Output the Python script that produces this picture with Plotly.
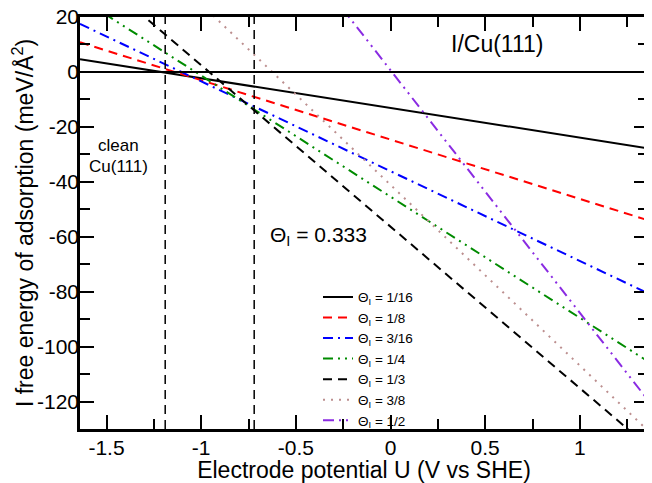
import plotly.graph_objects as go

# Electrode potential at the two ends of each (straight) line
U_ends = [-1.64, 1.36]

labels = ["1/16", "1/8", "3/16", "1/4", "1/3", "3/8", "1/2"]
G_1_16 = [4.6, -27.8]
G_1_8 = [10.8, -54.0]
G_3_16 = [17.5, -80.6]
G_1_4 = [26.9, -105.4]
G_1_3 = [40.1, -136.3]
G_3_8 = [66.8, -130.6]
G_1_2 = [145.5, -119.5]
series = [G_1_16, G_1_8, G_3_16, G_1_4, G_1_3, G_3_8, G_1_2]

colors = ["#000000", "#ff0000", "#0000ff", "#008b00", "#000000", "#bc8f8f", "#8a2be2"]
dashes = ["solid", "9px,6px", "10px,5px,2px,5px", "10px,5px,2px,5px,2px,5px",
          "9px,6px", "2px,6px", "11px,5px,2px,5px,2px,5px"]

# vertical marker potentials
U_marks = [-1.19, -0.72]

x_ticks = [-1.5, -1, -0.5, 0, 0.5, 1]
x_ticktext = ["-1.5", "-1", "-0.5", "0", "0.5", "1"]
y_ticks = [-120, -100, -80, -60, -40, -20, 0, 20]
y_ticktext = ["-120", "-100", "-80", "-60", "-40", "-20", "0", "20"]

FONT = "Liberation Sans, Arial, Helvetica, sans-serif"

# page body adds an 8px offset; compensate so the plot lands where intended
OFF = 8
W, H = 652 - OFF, 483 - OFF
L, T = 80 - OFF, 17 - OFF
PW, PH = 568, 412.5
R = W - L - PW
B = H - T - PH

fig = go.Figure()
for lab, g, c, d in zip(labels, series, colors, dashes):
    fig.add_trace(go.Scatter(
        x=U_ends, y=g, mode="lines",
        line=dict(color=c, width=2, dash=d),
        name="Θ<sub>I</sub> = " + lab,
    ))

for u in U_marks:
    fig.add_shape(type="line", xref="x", yref="paper", x0=u, x1=u, y0=0, y1=1,
                  line=dict(color="black", width=1.5, dash="9px,6px"), layer="above")

def sx(xpx):
    return (xpx - OFF - L) / PW

def sy(ypx):
    return (H - B - (ypx - OFF)) / PH

def px_ann(text, xpx, ypx, size):
    fig.add_annotation(
        x=sx(xpx), y=sy(ypx), xref="paper", yref="paper",
        text=text, showarrow=False, font=dict(family=FONT, size=size, color="black"),
        xanchor="center", yanchor="middle")

px_ann("clean", 118, 146, 17)
px_ann("Cu(111)", 118, 167, 17)
px_ann("I/Cu(111)", 497, 44, 23)
px_ann("Θ<sub>I</sub> = 0.333", 318, 236, 21)

axis_common = dict(
    showline=True, linecolor="black", linewidth=2.5, mirror="ticks",
    ticks="inside", ticklen=14, tickwidth=2, tickcolor="black",
    showgrid=False, zeroline=False, automargin=False,
    ticklabeloverflow="allow",
    tickfont=dict(family=FONT, size=21, color="black"),
)

fig.update_layout(
    width=W, height=H,
    margin=dict(l=L, r=R, t=T, b=B, autoexpand=False),
    paper_bgcolor="white", plot_bgcolor="white",
    font=dict(family=FONT, color="black"),
    xaxis=dict(
        range=[-1.64, 1.36], tickvals=x_ticks, ticktext=x_ticktext,
        ticklabelstandoff=-2,
        minor=dict(dtick=0.25, tick0=0, ticks="inside", ticklen=10, tickwidth=2, tickcolor="black"),
        title=dict(text="Electrode potential U (V vs SHE)", font=dict(family=FONT, size=23), standoff=2),
        **axis_common,
    ),
    yaxis=dict(
        range=[-130, 20], tickvals=y_ticks, ticktext=y_ticktext,
        ticklabelstandoff=-6,
        minor=dict(dtick=10, tick0=0, ticks="inside", ticklen=10, tickwidth=2, tickcolor="black"),
        title=dict(text="I free energy of adsorption (meV/Å<sup>2</sup>)", font=dict(family=FONT, size=23), standoff=4),
        **axis_common,
    ),
    showlegend=True,
    legend=dict(
        x=sx(318), y=sy(282), xanchor="left", yanchor="top",
        bgcolor="rgba(0,0,0,0)", font=dict(family=FONT, size=13.5, color="black"),
        tracegroupgap=0, itemwidth=30,
    ),
)

# zero line across the plot
fig.add_hline(y=0, line=dict(color="black", width=2))

fig.write_html("out.html")
